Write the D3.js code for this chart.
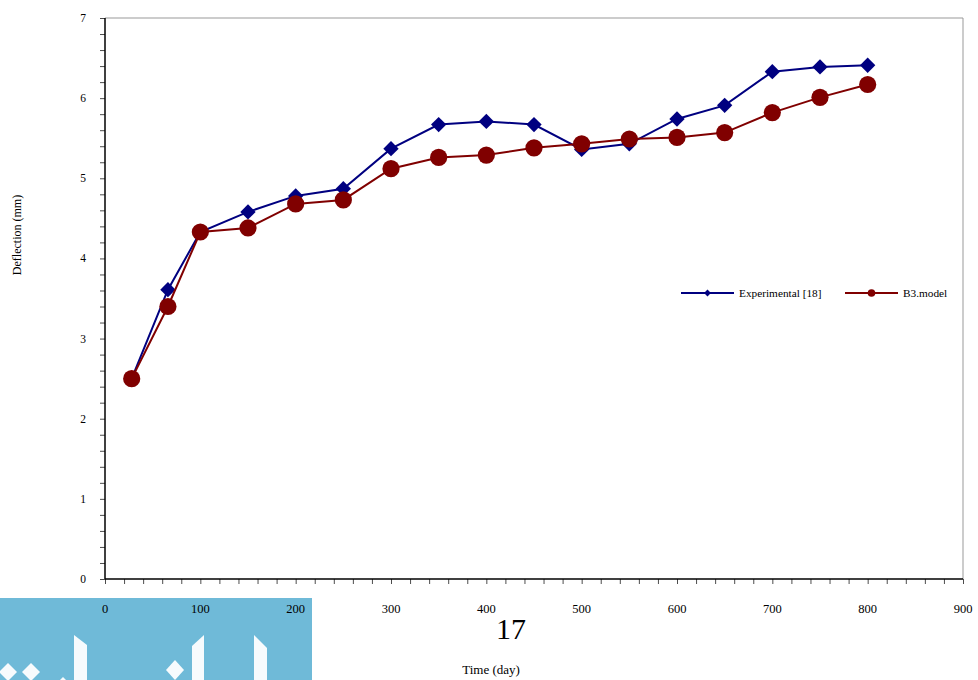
<!DOCTYPE html>
<html>
<head>
<meta charset="utf-8">
<script src="https://cdn.jsdelivr.net/npm/d3@7/dist/d3.min.js"></script>
<style>
  html, body { margin: 0; padding: 0; background: #fff; }
  svg { display: block; font-family: "Liberation Serif", "Times New Roman", serif; }
</style>
</head>
<body>
<svg id="chart" width="978" height="680"></svg>
<script>
// Time of measurement (days)
const days = [28, 66, 100, 150, 200, 250, 300, 350, 400, 450, 500, 550, 600, 650, 700, 750, 800];
// Measured deflection (mm)
const experimental = [2.50, 3.61, 4.33, 4.58, 4.78, 4.87, 5.37, 5.67, 5.71, 5.67, 5.36, 5.43, 5.74, 5.91, 6.33, 6.39, 6.41];
// Model deflection (mm)
const b3Model = [2.50, 3.40, 4.33, 4.38, 4.68, 4.73, 5.12, 5.26, 5.29, 5.38, 5.43, 5.49, 5.51, 5.57, 5.82, 6.01, 6.17];
const seriesNames = ["Experimental [18]", "B3.model"];
const xTicks = [0, 100, 200, 300, 400, 500, 600, 700, 800, 900];
const yTicks = [0, 1, 2, 3, 4, 5, 6, 7];

const svg = d3.select("#chart");

const x = d3.scaleLinear().domain([0, 900]).range([105, 963]);
const y = d3.scaleLinear().domain([0, 7]).range([579, 18]);

// Banner strip along the lower left edge
const banner = svg.append("g");
banner.append("rect").attr("x", 0).attr("y", 598).attr("width", 312).attr("height", 82).attr("fill", "#6fbad8");
const white = "#ffffff";
banner.append("g").attr("fill", white).attr("opacity", 0.95).style("filter", "blur(0.6px)")
  .selectAll("path")
  .data([
    "M74,635 L87,645 L87,680 L74,680 Z",
    "M204,635 L204,680 L192,680 L192,646 Z",
    "M254,635 L267,648 L267,680 L254,680 Z",
    "M8,663 L17,672 L8,681 L-1,672 Z",
    "M31,663 L40,672 L31,681 L22,672 Z",
    "M175,660 L184,670 L175,680 L166,670 Z",
    "M60,680 L63,677 L66,680 Z"
  ])
  .join("path").attr("d", d => d);

// Plot frame: grey top and right edges
svg.append("path")
  .attr("d", `M${x(0)},${y(7)}H${x(900)}V${y(0)}`)
  .attr("fill", "none").attr("stroke", "#999").attr("stroke-width", 1);

// Y axis
const yAxis = svg.append("g").attr("transform", `translate(${x(0)},0)`);
yAxis.call(d3.axisLeft(y).tickValues(d3.range(0, 7.001, 0.2)).tickSize(5).tickFormat(""));
yAxis.select(".domain").attr("stroke", "#000").attr("stroke-width", 1.5).attr("d", `M0,${y(0)}V${y(7)}`);
yAxis.selectAll(".tick line").attr("stroke", "#000").attr("stroke-width", 1).attr("opacity", 0.7);
svg.append("g").selectAll("text").data(yTicks).join("text")
  .attr("x", 86).attr("y", d => y(d) + 4)
  .attr("text-anchor", "end").attr("font-size", 11.5).attr("fill", "#000")
  .text(d => d);

// X axis
const xAxis = svg.append("g").attr("transform", `translate(0,${y(0)})`);
xAxis.call(d3.axisBottom(x).tickValues(d3.range(0, 901, 20)).tickSize(5).tickFormat(""));
xAxis.select(".domain").attr("stroke", "#000").attr("stroke-width", 1.5).attr("d", `M${x(0)},0H${x(900)}`);
xAxis.selectAll(".tick line").attr("stroke", "#000").attr("stroke-width", 1).attr("opacity", 0.7);
svg.append("g").selectAll("text").data(xTicks).join("text")
  .attr("x", d => x(d)).attr("y", 613)
  .attr("text-anchor", "middle").attr("font-size", 12.5).attr("fill", "#000")
  .text(d => d);

// Axis titles and page number
svg.append("text").attr("x", 491).attr("y", 674).attr("text-anchor", "middle")
  .attr("font-size", 13).text("Time (day)");
svg.append("text").attr("transform", "translate(21,235) rotate(-90)").attr("text-anchor", "middle")
  .attr("font-size", 12).text("Deflection (mm)");
svg.append("text").attr("x", 511).attr("y", 639).attr("text-anchor", "middle")
  .attr("font-size", 30).text("17");

// Series
const line = d3.line().x(d => x(d[0])).y(d => y(d[1]));
const diamond = d3.symbol().type(d3.symbolDiamond2);

function drawSeries(values, color, marker) {
  const pts = days.map((d, i) => [d, values[i]]);
  const g = svg.append("g");
  g.append("path").datum(pts).attr("d", line)
    .attr("fill", "none").attr("stroke", color).attr("stroke-width", 2);
  if (marker === "diamond") {
    g.selectAll("path.m").data(pts).join("path").attr("class", "m")
      .attr("transform", d => `translate(${x(d[0])},${y(d[1])})`)
      .attr("d", diamond.size(150)()).attr("fill", color);
  } else {
    g.selectAll("circle").data(pts).join("circle")
      .attr("cx", d => x(d[0])).attr("cy", d => y(d[1])).attr("r", 8.6)
      .attr("fill", color);
  }
}
drawSeries(experimental, "#000080", "diamond");
drawSeries(b3Model, "#800000", "circle");

// Legend
const legend = svg.append("g");
const legendItems = [
  { name: seriesNames[0], color: "#000080", marker: "diamond", x0: 681 },
  { name: seriesNames[1], color: "#800000", marker: "circle", x0: 845 }
];
legendItems.forEach(it => {
  legend.append("line").attr("x1", it.x0).attr("x2", it.x0 + 53).attr("y1", 293).attr("y2", 293)
    .attr("stroke", it.color).attr("stroke-width", 2);
  if (it.marker === "diamond") {
    legend.append("path").attr("transform", `translate(${it.x0 + 26.5},293)`)
      .attr("d", diamond.size(30)()).attr("fill", it.color);
  } else {
    legend.append("circle").attr("cx", it.x0 + 26.5).attr("cy", 293).attr("r", 3.8).attr("fill", it.color);
  }
  legend.append("text").attr("x", it.x0 + 58).attr("y", 297).attr("font-size", 11.3).text(it.name);
});
</script>
</body>
</html>
